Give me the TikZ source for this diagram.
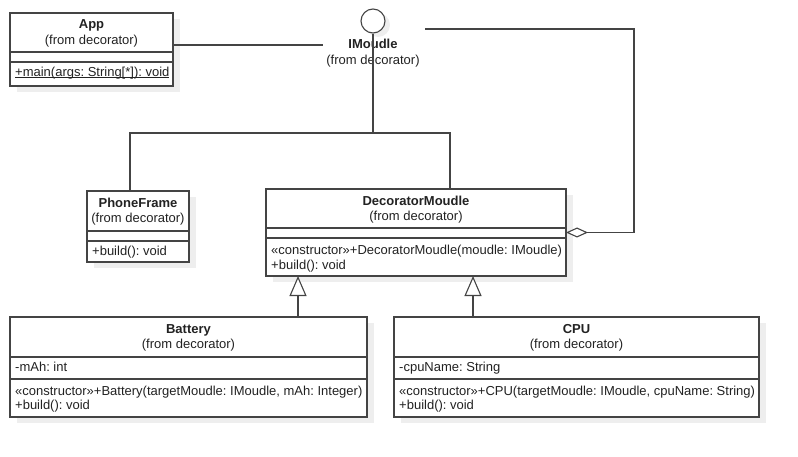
\documentclass[tikz,border=0pt]{standalone}
\usepackage{fontspec}
\setmainfont{Liberation Sans}
\usetikzlibrary{arrows.meta,shadows}
\definecolor{linec}{HTML}{444444}
\definecolor{txtc}{HTML}{222222}
\definecolor{shadc}{HTML}{EEEEEE}
\tikzset{
  umlbox/.style={draw=linec, fill=white, line width=1.1pt, anchor=north west, inner sep=0pt, outer sep=0pt,
    drop shadow={shadow xshift=7pt, shadow yshift=-6pt, fill=shadc, opacity=1}},
  divl/.style={draw=linec, line width=1.1pt},
  conn/.style={draw=linec, line width=1.1pt},
  gen/.style={conn, -{Triangle[open, length=20pt, width=17pt, fill=white]}},
  aggr/.style={conn, -{Diamond[open, length=22pt, width=10pt, fill=white]}},
  ttl/.style={font=\bfseries\fontsize{13}{15}\selectfont\frenchspacing, text=txtc, inner sep=0pt, text height=9.5pt, text depth=3pt},
  sub/.style={font=\fontsize{13}{15}\selectfont\frenchspacing, text=txtc, inner sep=0pt, text height=9.5pt, text depth=3pt},
  mem/.style={sub, anchor=west}
}
\newcommand{\ulin}[1]{\setbox0\hbox{#1}\rlap{\rule[-1.6pt]{\wd0}{0.8pt}}\box0}
\begin{document}
\begin{tikzpicture}[x=1pt, y=-1pt]
\useasboundingbox (0,0) rectangle (798,457);

% App
\node[umlbox, minimum width=163pt, minimum height=73pt] (app) at (10,13) {};
\draw[divl] (app.west |- 0,52) -- (app.east |- 0,52);
\draw[divl] (app.west |- 0,62) -- (app.east |- 0,62);
\node[ttl] (appt) at (91.5,25) {App};
\node[sub] (apps) at (91.5,41.5) {(from decorator)};
\node[mem] (appm) at (15,73) {\ulin{+main(args: String[*]): void}};

% IMoudle interface
\node[circle, draw=linec, fill=white, line width=1.1pt, minimum size=24pt, inner sep=0pt,
  drop shadow={shadow xshift=5pt, shadow yshift=-4pt, fill=shadc, opacity=1}] (ic) at (373,21) {};
\node[ttl] (it) at (373,45) {IMoudle};
\node[sub] (is) at (373,61) {(from decorator)};
\coordinate (iL) at (323,45);
\coordinate (iR) at (425,29);

% PhoneFrame
\node[umlbox, minimum width=102pt, minimum height=71pt] (pf) at (87,191) {};
\draw[divl] (pf.west |- 0,231) -- (pf.east |- 0,231);
\draw[divl] (pf.west |- 0,241) -- (pf.east |- 0,241);
\node[ttl] (pft) at (138,204) {PhoneFrame};
\node[sub] (pfs) at (138,219.5) {(from decorator)};
\node[mem] (pfm) at (92,252) {+build(): void};

% DecoratorMoudle
\node[umlbox, minimum width=300pt, minimum height=87pt] (dm) at (266,189) {};
\draw[divl] (dm.west |- 0,228) -- (dm.east |- 0,228);
\draw[divl] (dm.west |- 0,238) -- (dm.east |- 0,238);
\node[ttl] (dmt) at (416,202) {DecoratorMoudle};
\node[sub] (dms) at (416,217) {(from decorator)};
\node[mem] (dmm1) at (271,251.5) {«constructor»+DecoratorMoudle(moudle: IMoudle)};
\node[mem] (dmm2) at (271,266) {+build(): void};

% Battery
\node[umlbox, minimum width=357pt, minimum height=100pt] (bat) at (10,317) {};
\draw[divl] (bat.west |- 0,357) -- (bat.east |- 0,357);
\draw[divl] (bat.west |- 0,379) -- (bat.east |- 0,379);
\node[ttl] (batt) at (188.5,330) {Battery};
\node[sub] (bats) at (188.5,345) {(from decorator)};
\node[mem] (bata) at (15,368) {-mAh: int};
\node[mem] (batm1) at (15,392) {«constructor»+Battery(targetMoudle: IMoudle, mAh: Integer)};
\node[mem] (batm2) at (15,406) {+build(): void};

% CPU
\node[umlbox, minimum width=365pt, minimum height=100pt] (cpu) at (394,317) {};
\draw[divl] (cpu.west |- 0,357) -- (cpu.east |- 0,357);
\draw[divl] (cpu.west |- 0,379) -- (cpu.east |- 0,379);
\node[ttl] (cput) at (576.5,330) {CPU};
\node[sub] (cpus) at (576.5,345) {(from decorator)};
\node[mem] (cpua) at (399,368) {-cpuName: String};
\node[mem] (cpum1) at (399,392) {«constructor»+CPU(targetMoudle: IMoudle, cpuName: String)};
\node[mem] (cpum2) at (399,406) {+build(): void};

% connectors
\draw[conn] (app.east |- iL) -- (iL);
\draw[aggr] (iR) -| ([xshift=68pt]dm.east) -- (dm.east);
\coordinate (j) at (373,133);
\draw[conn] (ic.south) -- (j);
\draw[conn] (j) -| ([xshift=-8pt]pf.north);
\draw[conn] (j) -| ([xshift=34pt]dm.north);
\coordinate (g1) at (298,0);
\coordinate (g2) at (473,0);
\draw[gen] (bat.north -| g1) -- (dm.south -| g1);
\draw[gen] (cpu.north -| g2) -- (dm.south -| g2);
\end{tikzpicture}
\end{document}
